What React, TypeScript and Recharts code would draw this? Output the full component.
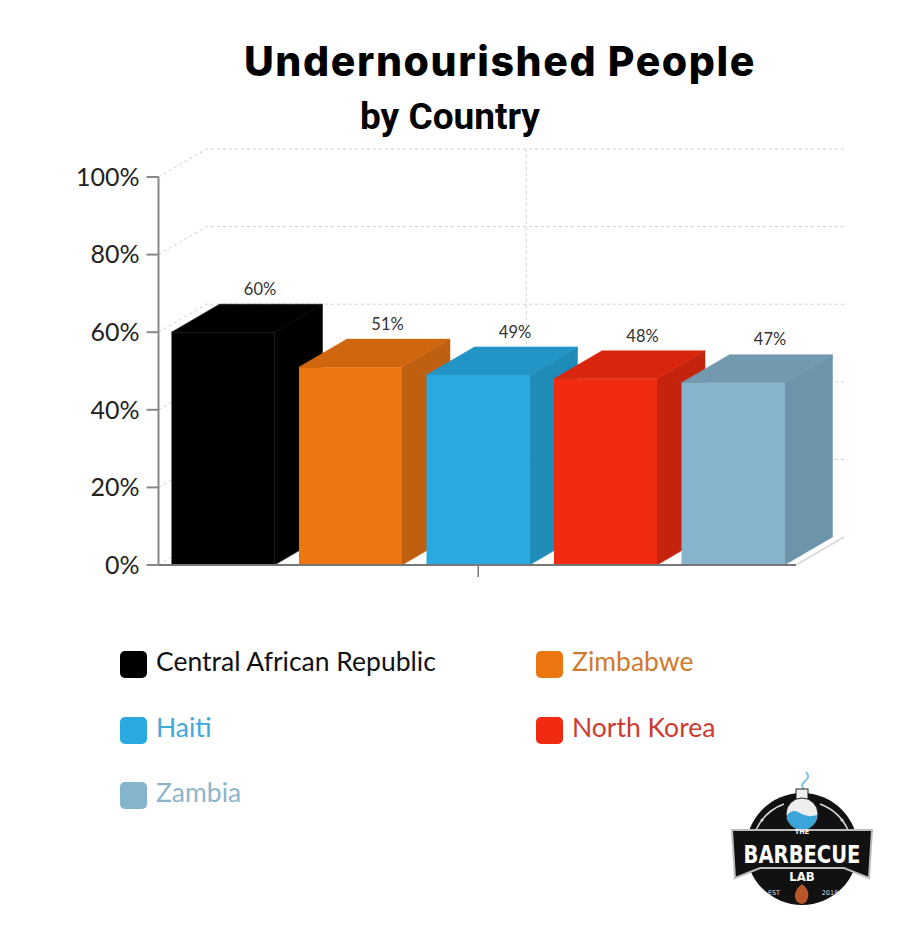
import { BarChart, Bar, XAxis, YAxis, CartesianGrid, Legend, LabelList } from "recharts";

const GROUP = "Undernourished";
const COUNTRIES = ["Central African Republic", "Zimbabwe", "Haiti", "North Korea", "Zambia"];
const VALUES = [60, 51, 49, 48, 47];
const Y_TICKS = [0, 20, 40, 60, 80, 100];

const FRONT = ["#000000", "#EC7612", "#29A9DF", "#F12A12", "#85B4CD"];
const TOP = ["#000000", "#D0660F", "#2294C6", "#D8260D", "#7299AF"];
const SIDE = ["#000000", "#BF5F10", "#1F8BB9", "#C4230D", "#6D94AB"];
const LEGEND_TEXT = ["#111111", "#D07A2C", "#3FA9D8", "#CE3A30", "#8DB5CA"];

const DATA = [
  COUNTRIES.reduce<Record<string, string | number>>(
    (row, name, i) => { row[name] = VALUES[i]; return row; },
    { group: GROUP }
  ),
];

// depth of the fake 3D box
const DX = 48;
const DY = -28;
const PLOT_LEFT = 158.5;
const PLOT_RIGHT = 796;
const PLOT_BOTTOM = 565;
const GRID = "#cfcfcf";

function Box3D(props: any) {
  const { x, y, width: w, height: h, index } = props;
  const top = `${x},${y} ${x + DX},${y + DY} ${x + w + DX},${y + DY} ${x + w},${y}`;
  const side = `${x + w},${y} ${x + w + DX},${y + DY} ${x + w + DX},${y + h + DY} ${x + w},${y + h}`;
  return (
    <g>
      <polygon points={side} fill={SIDE[index]} stroke={SIDE[index]} strokeWidth={0.5} />
      <polygon points={top} fill={TOP[index]} stroke={TOP[index]} strokeWidth={0.5} />
      <rect x={x} y={y} width={w} height={h} fill={FRONT[index]} />
    </g>
  );
}

function HGrid(props: any) {
  const { x1, x2, y1 } = props;
  if (y1 >= PLOT_BOTTOM - 0.5) {
    return (
      <g>
        <line x1={x1} y1={y1} x2={x1 + DX} y2={y1 + DY} stroke={GRID} strokeDasharray="3 3" />
        <line x1={x2} y1={y1} x2={x2 + DX} y2={y1 + DY} stroke="#d8d8d8" strokeWidth={1.5} />
      </g>
    );
  }
  return (
    <polyline
      points={`${x1},${y1} ${x1 + DX},${y1 + DY} ${x2 + DX},${y1 + DY}`}
      fill="none"
      stroke={GRID}
      strokeDasharray="3 3"
    />
  );
}

function VGrid(props: any) {
  const { x1, y1, y2 } = props;
  if (x1 <= PLOT_LEFT + 1 || x1 >= PLOT_RIGHT - 1) return <g />;
  return <line x1={x1 + DX} y1={y1 + DY} x2={x1 + DX} y2={y2 + DY} stroke={GRID} strokeDasharray="3 3" />;
}

function ValueLabel(props: any) {
  const { x, y, width, value } = props;
  return (
    <text x={x + width / 2 + 37} y={y - 43} dy="0.35em" textAnchor="middle" fontFamily="Lato" fontSize={16.5} fill="#333">
      {value}%
    </text>
  );
}

function NoTickLabel() {
  return <g />;
}

function LegendBlock(props: any) {
  const spots = [[120, 651], [536, 651], [120, 717], [536, 717], [120, 782]];
  return (
    <div>
      {(props.payload || []).map((item: any, i: number) => (
        <div key={item.value} style={{ position: "absolute", left: spots[i][0], top: spots[i][1], display: "flex", alignItems: "center", height: 27 }}>
          <span style={{ width: 27, height: 27, borderRadius: 5, background: FRONT[i], marginRight: 9 }} />
          <span style={{ fontFamily: "Lato", fontSize: 26.5, lineHeight: "27px", position: "relative", top: -3, color: LEGEND_TEXT[i], whiteSpace: "nowrap" }}>{item.value}</span>
        </div>
      ))}
    </div>
  );
}

function Logo() {
  return (
    <svg width={160} height={150} viewBox="0 0 160 150" style={{ position: "absolute", left: 722, top: 768 }}>
      <path d="M84 4 q5 5 -1 9 q-5 4 -1 9" fill="none" stroke="#7cc4e4" strokeWidth={2} />
      <circle cx={80} cy={81} r={56} fill="#111" />
      <path d="M34 62 A50 50 0 0 1 62 36" fill="none" stroke="#ddd" strokeWidth={1.5} />
      <path d="M126 62 A50 50 0 0 0 98 36" fill="none" stroke="#ddd" strokeWidth={1.5} />
      <circle cx={40} cy={52} r={1.5} fill="#ddd" />
      <circle cx={120} cy={52} r={1.5} fill="#ddd" />
      <rect x={74} y={21} width={12} height={14} fill="#eee" stroke="#222" />
      <circle cx={80} cy={46} r={16} fill="#eee" stroke="#222" />
      <path d="M65 47 q6 -7 13 -2 t17 2 a15 15 0 0 1 -30 0" fill="#3aa5d8" />
      <path d="M10 62 L150 62 L147 110 L122 100 L38 100 L13 110 Z" fill="#111" stroke="#bbb" strokeWidth={2} />
      <text x={80} y={66} textAnchor="middle" fontFamily="DejaVu Sans" fontWeight={700} fontSize={6.5} fill="#fff">THE</text>
      <text transform="translate(80,95) scale(0.8,1.2)" textAnchor="middle" fontFamily="DejaVu Sans Condensed" fontWeight={700} fontSize={20} textLength={146} lengthAdjust="spacingAndGlyphs" fill="#fff">BARBECUE</text>
      <text x={80} y={113} textAnchor="middle" fontFamily="DejaVu Sans Condensed" fontWeight={700} fontSize={13} fill="#fff">LAB</text>
      <text x={52} y={127} textAnchor="middle" fontFamily="DejaVu Sans" fontSize={6.5} fill="#ddd">EST</text>
      <text x={108} y={127} textAnchor="middle" fontFamily="DejaVu Sans" fontSize={6.5} fill="#ddd">2018</text>
      <path d="M80 116 q8 6 6 13 q-1 6 -6 7 q-6 -1 -7 -7 q-1 -7 7 -13" fill="#b8562a" />
    </svg>
  );
}

export default function App() {
  return (
    <div style={{ position: "absolute", left: 0, top: 0, width: 900, height: 938, background: "#fff" }}>
      <div style={{ position: "absolute", left: 200, width: 600, top: 36, textAlign: "center", fontFamily: "Inter", fontWeight: 800, fontSize: 41, letterSpacing: 1.6, lineHeight: "50px", color: "#000" }}>
        Undernourished People
      </div>
      <div style={{ position: "absolute", left: 250, width: 400, top: 94, textAlign: "center", fontFamily: "Roboto", fontWeight: 700, fontSize: 37, lineHeight: "46px", color: "#000" }}>
        by Country
      </div>
      <BarChart
        width={900}
        height={938}
        data={DATA}
        margin={{ top: 177, right: 104, left: 0, bottom: 0 }}
        barSize={103}
        barGap={24.5}
      >
        <CartesianGrid stroke={GRID} horizontal={HGrid} vertical={VGrid} />
        <XAxis
          dataKey="group"
          height={373}
          padding={{ left: 2, right: 0 }}
          tick={NoTickLabel}
          tickSize={12}
          axisLine={{ stroke: "#777", strokeWidth: 2 }}
          tickLine={{ stroke: "#777", strokeWidth: 1.5 }}
        />
        <YAxis
          width={158.5}
          domain={[0, 100]}
          ticks={Y_TICKS}
          tickFormatter={(v) => `${v}%`}
          tickSize={12}
          tickMargin={7}
          tick={{ fontFamily: "Lato", fontSize: 25, fill: "#222" }}
          axisLine={{ stroke: "#888", strokeWidth: 2 }}
          tickLine={{ stroke: "#888", strokeWidth: 2 }}
        />
        <Legend layout="horizontal" verticalAlign="middle" itemSorter={null} content={LegendBlock} wrapperStyle={{ position: "absolute", left: 0, top: 0, width: 0, height: 0 }} />
        {COUNTRIES.map((name, i) => (
          <Bar
            key={name}
            dataKey={name}
            name={name}
            fill={FRONT[i]}
            isAnimationActive={false}
            shape={(p: any) => <Box3D {...p} index={i} />}
          >
            <LabelList dataKey={name} content={ValueLabel} />
          </Bar>
        ))}
      </BarChart>
      <Logo />
    </div>
  );
}
